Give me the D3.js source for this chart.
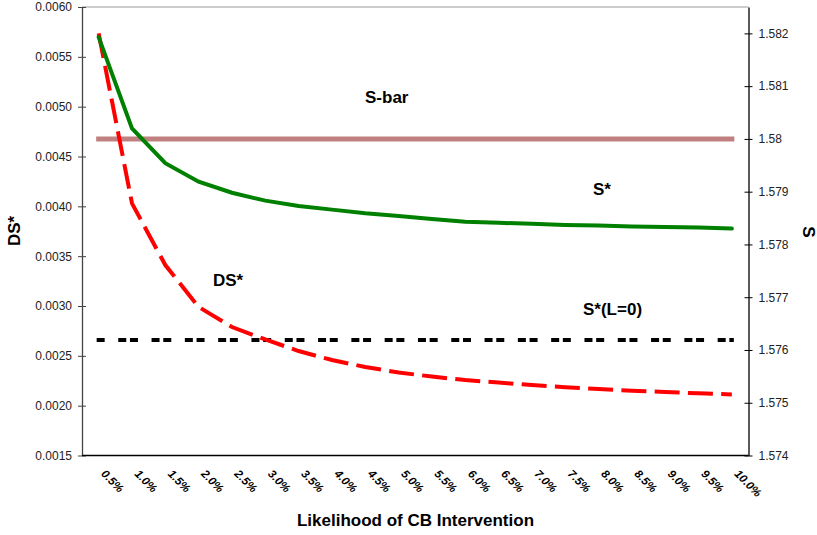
<!DOCTYPE html>
<html>
<head>
<meta charset="utf-8">
<script src="https://cdn.jsdelivr.net/npm/d3@7"></script>
<style>
  body { margin: 0; background: #fff; }
  svg { font-family: "Liberation Sans", Arial, sans-serif; }
</style>
</head>
<body>
<div id="chart"></div>
<script>
// categories (likelihood of CB intervention)
const categories = ["0.5%", "1.0%", "1.5%", "2.0%", "2.5%", "3.0%", "3.5%", "4.0%", "4.5%", "5.0%",
                    "5.5%", "6.0%", "6.5%", "7.0%", "7.5%", "8.0%", "8.5%", "9.0%", "9.5%", "10.0%"];

// S* (right axis)
const sStar = [1.58193, 1.58020, 1.57954, 1.57919, 1.57898, 1.57883, 1.57873, 1.57866, 1.57859, 1.57854,
               1.57848, 1.57843, 1.57841, 1.57839, 1.57837, 1.57836, 1.57834, 1.57833, 1.57832, 1.57830];

// DS* (left axis)
const dsStar = [0.005736, 0.004030, 0.003411, 0.002990, 0.002789, 0.002664, 0.002548, 0.002458, 0.002388, 0.002333,
                0.002292, 0.002257, 0.002232, 0.002207, 0.002185, 0.002167, 0.002150, 0.002137, 0.002124, 0.002112];

// horizontal references (right axis)
const sBar = 1.58;
const sStarL0 = 1.57619;

// tick labels
const leftTicks = [0.0015, 0.0020, 0.0025, 0.0030, 0.0035, 0.0040, 0.0045, 0.0050, 0.0055, 0.0060];
const rightTicks = [1.574, 1.575, 1.576, 1.577, 1.578, 1.579, 1.58, 1.581, 1.582];

const W = 817, H = 535;
const plot = { left: 82, right: 748.5, top: 7, bottom: 455.5 };

const svg = d3.select("#chart").append("svg")
    .attr("width", W)
    .attr("height", H);

// scales
const x = d3.scaleBand()
    .domain(categories)
    .range([plot.left, plot.right])
    .padding(0);
const cx = d => x(d) + x.bandwidth() / 2;

const yL = d3.scaleLinear().domain([0.0015, 0.0060]).range([plot.bottom, plot.top]);
const yR = d3.scaleLinear().domain([1.574, 1.5825]).range([plot.bottom, plot.top]);

// frame: top border
svg.append("line")
    .attr("x1", plot.left).attr("x2", plot.right)
    .attr("y1", plot.top).attr("y2", plot.top)
    .attr("stroke", "#999").attr("stroke-width", 1);

// left axis
const axL = svg.append("g")
    .attr("transform", `translate(${plot.left},0)`)
    .call(d3.axisLeft(yL).tickValues(leftTicks).tickFormat(d3.format(".4f"))
        .tickSizeInner(4).tickSizeOuter(0).tickPadding(6));
axL.select(".domain").attr("stroke", "#444").attr("stroke-width", 1.3);
axL.selectAll(".tick line").attr("stroke", "#444").attr("x2", -4).attr("x1", 4);
axL.selectAll(".tick text").attr("font-size", 12).attr("fill", "#222")
    .attr("font-family", "Liberation Sans, Arial, sans-serif");

// right axis
const axR = svg.append("g")
    .attr("transform", `translate(${plot.right},0)`)
    .call(d3.axisRight(yR).tickValues(rightTicks).tickFormat(d => String(+d.toFixed(3)))
        .tickSizeInner(4).tickSizeOuter(0).tickPadding(6));
axR.select(".domain").attr("stroke", "#000").attr("stroke-width", 1.3);
axR.selectAll(".tick line").attr("stroke", "#000").attr("x1", -4).attr("x2", 4);
axR.selectAll(".tick text").attr("font-size", 12).attr("fill", "#222")
    .attr("font-family", "Liberation Sans, Arial, sans-serif");

// bottom axis (line only) with rotated labels
svg.append("line")
    .attr("x1", plot.left).attr("x2", plot.right)
    .attr("y1", plot.bottom).attr("y2", plot.bottom)
    .attr("stroke", "#000").attr("stroke-width", 1.3);

svg.append("g").selectAll("text")
    .data(categories)
    .enter().append("text")
    .attr("transform", d => `translate(${cx(d) + 8},${plot.bottom + 13}) rotate(45)`)
    .attr("text-anchor", "start")
    .attr("dy", "0.75em")
    .attr("font-size", 11.5)
    .attr("font-weight", "bold")
    .attr("font-style", "italic")
    .attr("fill", "#000")
    .text(d => d);

// S-bar line
svg.append("line")
    .attr("x1", cx(categories[0])).attr("x2", cx(categories[categories.length - 1]))
    .attr("y1", yR(sBar)).attr("y2", yR(sBar))
    .attr("stroke", "#c08080").attr("stroke-width", 5)
    .attr("stroke-linecap", "square");

// S*(L=0) line
svg.append("line")
    .attr("x1", cx(categories[0])).attr("x2", cx(categories[categories.length - 1]))
    .attr("y1", yR(sStarL0)).attr("y2", yR(sStarL0))
    .attr("stroke", "#000").attr("stroke-width", 4)
    .attr("stroke-linecap", "square")
    .attr("stroke-dasharray", "4,7.7,4,17.6")
    .attr("stroke-dashoffset", 11.7);

// DS* line
const lineL = d3.line()
    .x((d, i) => cx(categories[i]))
    .y(d => yL(d));
svg.append("path")
    .datum(dsStar)
    .attr("d", lineL)
    .attr("fill", "none")
    .attr("stroke", "#ff0000")
    .attr("stroke-width", 4)
    .attr("stroke-dasharray", "25,8.3");

// S* line
const lineR = d3.line()
    .x((d, i) => cx(categories[i]))
    .y(d => yR(d));
svg.append("path")
    .datum(sStar)
    .attr("d", lineR)
    .attr("fill", "none")
    .attr("stroke", "#008000")
    .attr("stroke-width", 4)
    .attr("stroke-linecap", "round");

// annotations
const notes = [
    { t: "S-bar", x: 365, y: 103 },
    { t: "S*", x: 593, y: 195 },
    { t: "DS*", x: 213, y: 286 },
    { t: "S*(L=0)", x: 583, y: 315 }
];
svg.append("g").selectAll("text")
    .data(notes)
    .enter().append("text")
    .attr("x", d => d.x).attr("y", d => d.y)
    .attr("font-size", 17).attr("font-weight", "bold")
    .text(d => d.t);

// axis titles
svg.append("text")
    .attr("x", 415.5).attr("y", 526)
    .attr("text-anchor", "middle")
    .attr("font-size", 17).attr("font-weight", "bold")
    .text("Likelihood of CB Intervention");

svg.append("text")
    .attr("transform", `translate(19.5,231) rotate(-90)`)
    .attr("text-anchor", "middle")
    .attr("font-size", 17).attr("font-weight", "bold")
    .text("DS*");

svg.append("text")
    .attr("transform", `translate(803,232) rotate(90)`)
    .attr("text-anchor", "middle")
    .attr("font-size", 17).attr("font-weight", "bold")
    .text("S");
</script>
</body>
</html>
